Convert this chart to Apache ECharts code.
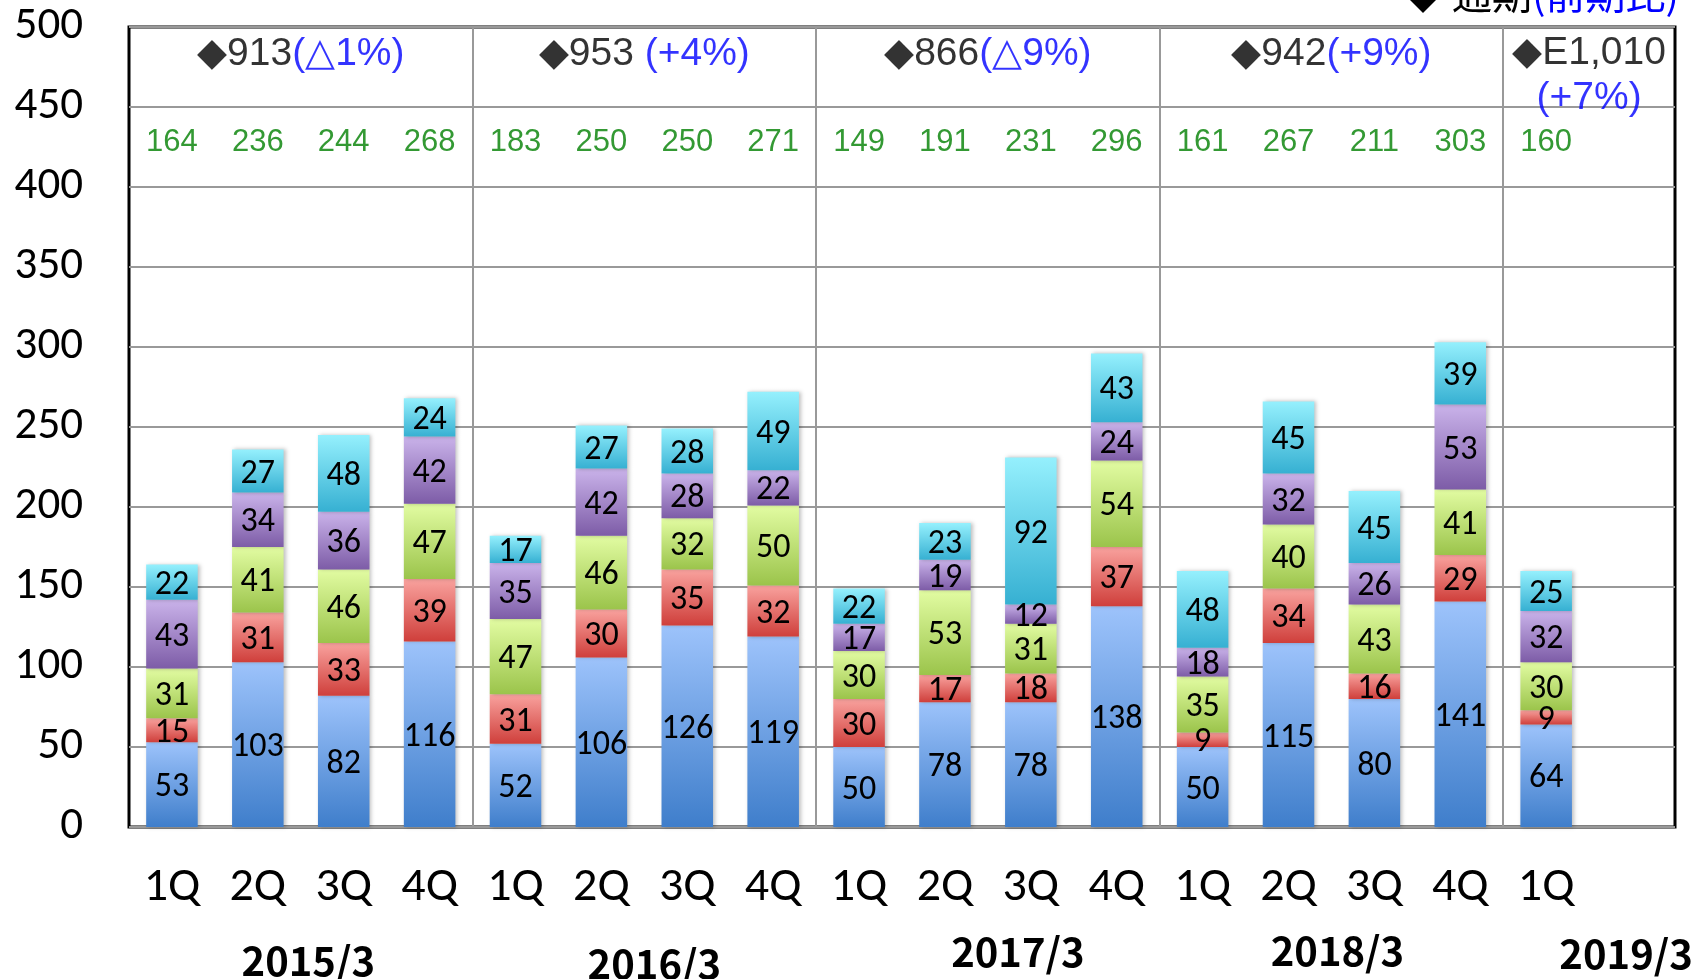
<!DOCTYPE html>
<html>
<head>
<meta charset="utf-8">
<script src="https://cdn.jsdelivr.net/npm/echarts@6/dist/echarts.min.js"></script>
<style>
html, body { margin: 0; padding: 0; background: #fff; }
#chart { width: 1693px; height: 979px; }
</style>
</head>
<body>
<div id="chart"></div>
<script>
// quarters (last slot left empty, as in the original sheet)
var quarters = ['1Q','2Q','3Q','4Q','1Q','2Q','3Q','4Q','1Q','2Q','3Q','4Q','1Q','2Q','3Q','4Q','1Q',''];
var years = ['2015/3','2016/3','2017/3','2018/3','2019/3'];
var quartersPerYear = [4, 4, 4, 4, 2];

// stacked segments, bottom -> top
var seg1 = [53,103,82,116, 52,106,126,119, 50,78,78,138, 50,115,80,141, 64];
var seg2 = [15,31,33,39, 31,30,35,32, 30,17,18,37, 9,34,16,29, 9];
var seg3 = [31,41,46,47, 47,46,32,50, 30,53,31,54, 35,40,43,41, 30];
var seg4 = [43,34,36,42, 35,42,28,22, 17,19,12,24, 18,32,26,53, 32];
var seg5 = [22,27,48,24, 17,27,28,49, 22,23,92,43, 48,45,45,39, 25];

var quarterTotals = [164,236,244,268, 183,250,250,271, 149,191,231,296, 161,267,211,303, 160];
var yearTotals = ['913','953','866','942','E1,010'];
var yearChanges = ['(△1%)','(+4%)','(△9%)','(+9%)','(+7%)'];
var yearSep = ['', ' ', '', '', '\n'];

var yMin = 0, yMax = 500, yStep = 50;
var totalsRow = 428;   // height of the green quarter totals row
var yearRow = 483;     // height of the annual totals row

// year label nudges (padding: top, left) to sit like the original
var yearPad = [[10, 15], [13, 20], [1, 60], [0, 12], [3, 74]];

var myChart = echarts.init(document.getElementById('chart'));

function grad(top, bottom) {
	return new echarts.graphic.LinearGradient(0, 0, 0, 1, [
		{ offset: 0, color: top },
		{ offset: 1, color: bottom }
	]);
}

var segColors = [
	grad('#9dc3fb', '#3f7ecb'),
	grad('#f9a29e', '#cf3f3b'),
	grad('#e2fca2', '#9bc44b'),
	grad('#cab3ea', '#7d5ca7'),
	grad('#95f0fd', '#36b0d2')
];
var segData = [seg1, seg2, seg3, seg4, seg5];

var yearFont = { fontSize: 40, fontWeight: 'bold', color: '#000', fontFamily: '"Noto Sans CJK JP", sans-serif' };

// boundary axis: one point per category edge
var edgeLabels = [];
for (var i = 0; i <= quarters.length; i++) edgeLabels.push('');
var yearRich = {};
var annot = [];
var start = 0;
for (var g = 0; g < years.length; g++) {
	var mid = start + quartersPerYear[g] / 2;
	edgeLabels[mid] = '{y' + g + '|' + years[g] + '}';
	yearRich['y' + g] = Object.assign({ padding: [yearPad[g][0], 0, 0, yearPad[g][1]] }, yearFont);
	var item = { value: [mid, yearRow], name: g };
	if (yearSep[g] === '\n') item.label = { offset: [0, 22] };
	annot.push(item);
	start += quartersPerYear[g];
}

var totalsData = quarterTotals.map(function (v, i) { return [i, totalsRow]; });

var series = segData.map(function (arr, k) {
	return {
		type: 'bar',
		stack: 'q',
		barWidth: '60%',
		data: arr,
		itemStyle: {
			color: segColors[k],
			shadowColor: 'rgba(0,0,0,0.25)',
			shadowBlur: 4,
			shadowOffsetX: 2
		},
		label: {
			show: true,
			position: 'inside',
			offset: [0, 3],
			color: '#000',
			fontSize: 34,
			fontFamily: 'Carlito, Lato, sans-serif'
		}
	};
});

series.push({
	type: 'scatter',
	xAxisIndex: 0,
	symbolSize: 0,
	data: totalsData,
	silent: true,
	label: {
		show: true,
		position: 'inside',
		color: '#008000',
		fontSize: 31,
		fontFamily: 'Liberation Sans, Arial, sans-serif',
		formatter: function (p) { return String(quarterTotals[p.dataIndex]); }
	}
});

series.push({
	type: 'scatter',
	xAxisIndex: 1,
	symbolSize: 0,
	data: annot,
	silent: true,
	label: {
		show: true,
		position: 'inside',
		formatter: function (p) {
			var g = p.dataIndex;
			var sep = yearSep[g];
			if (sep === '\n') return '{k|◆' + yearTotals[g] + '}\n{b|' + yearChanges[g] + '}';
			return '{k|◆' + yearTotals[g] + sep + '}{b|' + yearChanges[g] + '}';
		},
		rich: {
			k: { color: '#000', fontSize: 39, lineHeight: 45, fontFamily: 'Liberation Sans, Arial, sans-serif' },
			b: { color: '#0000ff', fontSize: 39, lineHeight: 45, fontFamily: 'Liberation Sans, Arial, sans-serif' }
		}
	}
});

myChart.setOption({
	animation: false,
	backgroundColor: '#fff',
	grid: {
		left: 129, right: 18, top: 27, bottom: 152,
		outerBoundsMode: 'none',
		containLabel: false,
		show: true,
		borderColor: '#000',
		borderWidth: 3
	},
	xAxis: [{
		type: 'category',
		data: quarters,
		axisLine: { show: false },
		axisTick: { show: false },
		axisLabel: {
			interval: 0,
			margin: 37,
			color: '#000',
			fontSize: 48,
			fontFamily: 'Carlito, Lato, sans-serif'
		}
	}, {
		type: 'category',
		position: 'bottom',
		boundaryGap: false,
		data: edgeLabels,
		axisLine: { show: false },
		axisTick: { show: false },
		splitLine: {
			show: true,
			interval: function (idx) { return idx % 4 === 0 && idx > 0 && idx < quarters.length; },
			lineStyle: { color: '#999', width: 2 }
		},
		axisLabel: {
			interval: 0,
			margin: 104,
			rich: yearRich
		}
	}],
	yAxis: {
		type: 'value',
		min: yMin,
		max: yMax,
		interval: yStep,
		axisLine: { show: false },
		axisTick: { show: false },
		axisLabel: {
			margin: 46,
			color: '#000',
			fontSize: 45,
			fontFamily: 'Carlito, Lato, sans-serif'
		},
		splitLine: { lineStyle: { color: '#999', width: 2 } }
	},
	graphic: [{
		type: 'text',
		x: 1403,
		y: -6,
		style: {
			text: '{k|◆ 通期}{b|(前期比)}',
			verticalAlign: 'middle',
			rich: {
				k: { fill: '#000', fontSize: 40, fontFamily: '"Noto Sans CJK JP", sans-serif' },
				b: { fill: '#0000ff', fontSize: 40, fontFamily: '"Noto Sans CJK JP", sans-serif' }
			}
		}
	}],
	series: series
});
</script>
</body>
</html>
